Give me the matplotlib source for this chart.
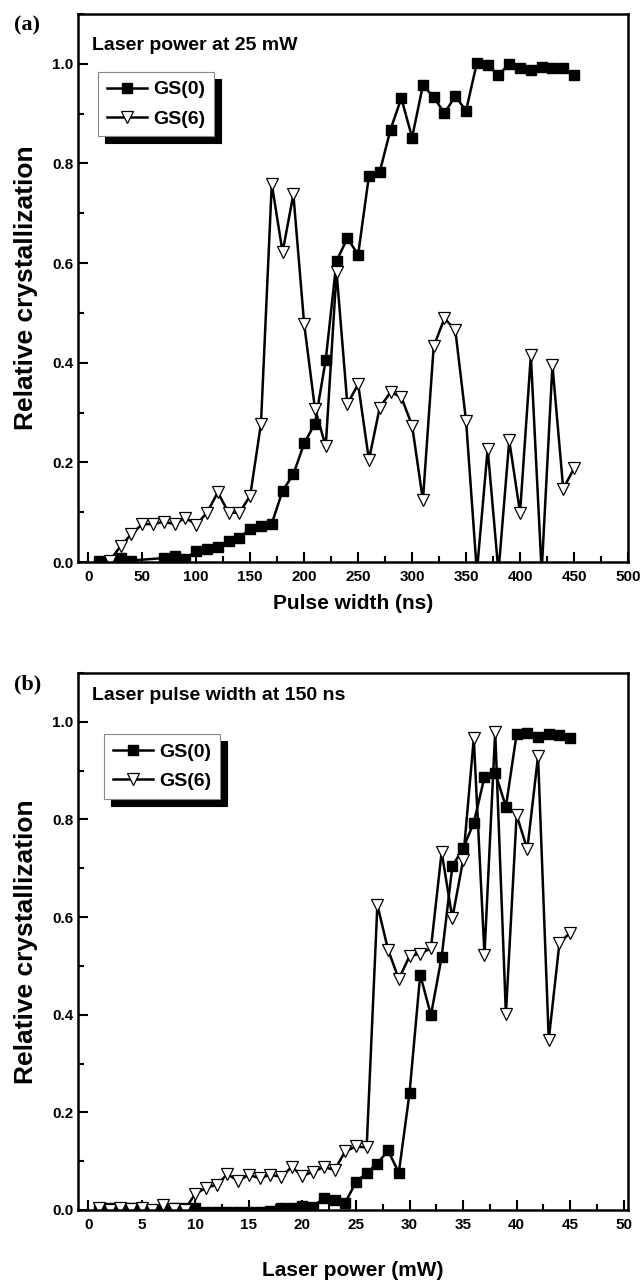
import matplotlib
matplotlib.use("Agg")
import matplotlib.pyplot as plt
from matplotlib.ticker import MultipleLocator

plt.rcParams["font.family"] = ["Liberation Sans", "DejaVu Sans"]
plt.rcParams["font.weight"] = "bold"

# panel (a): laser power 25 mW, x = pulse width (ns)
pw_gs0 = [10, 20, 30, 40] + list(range(70, 451, 10))
gs0_a = [0.003, 0.002, 0.009, 0.003, 0.008, 0.012, 0.007, 0.022, 0.026, 0.030,
         0.042, 0.049, 0.066, 0.073, 0.077, 0.143, 0.176, 0.238, 0.278, 0.406,
         0.604, 0.650, 0.617, 0.775, 0.783, 0.868, 0.931, 0.852, 0.957, 0.933,
         0.901, 0.935, 0.906, 1.002, 0.997, 0.977, 1.000, 0.991, 0.987, 0.993,
         0.991, 0.992, 0.977]
pw_gs6 = list(range(20, 451, 10))
gs6_a = [0.003, 0.032, 0.056, 0.076, 0.076, 0.081, 0.076, 0.089, 0.075, 0.099,
         0.140, 0.099, 0.099, 0.133, 0.278, 0.759, 0.622, 0.738, 0.478, 0.308,
         0.232, 0.583, 0.317, 0.357, 0.205, 0.310, 0.341, 0.331, 0.274, 0.124,
         0.433, 0.489, 0.466, 0.283, -0.02, 0.227, -0.02, 0.244, 0.099, 0.415,
         -0.02, 0.395, 0.147, 0.188]

# panel (b): pulse width 150 ns, x = laser power (mW)
lp = list(range(1, 46))
gs0_b = [0.002, 0.003, 0.004, 0.005, 0.002, 0.000, 0.002, 0.003, 0.004, 0.003,
         -0.005, -0.005, -0.004, -0.004, -0.004, -0.004, -0.003, 0.003, 0.005, 0.008,
         0.007, 0.024, 0.020, 0.015, 0.057, 0.076, 0.095, 0.122, 0.076, 0.239,
         0.482, 0.399, 0.518, 0.704, 0.741, 0.793, 0.887, 0.896, 0.826, 0.975,
         0.978, 0.970, 0.975, 0.973, 0.967]
gs6_b = [0.003, 0.000, 0.003, 0.002, 0.003, 0.000, 0.010, 0.002, 0.000, 0.033,
         0.045, 0.052, 0.073, 0.060, 0.072, 0.065, 0.072, 0.068, 0.088, 0.070,
         0.078, 0.088, 0.082, 0.120, 0.130, 0.128, 0.625, 0.533, 0.473, 0.520,
         0.525, 0.536, 0.733, 0.598, 0.716, 0.966, 0.523, 0.980, 0.401, 0.809,
         0.739, 0.930, 0.349, 0.547, 0.568]

fig = plt.figure(figsize=(6.42, 12.82), dpi=100)
ax_a = fig.add_axes([0.1215, 0.5616, 0.8567, 0.4275])
ax_b = fig.add_axes([0.1215, 0.0562, 0.8567, 0.4188])

panels = [
    (ax_a, pw_gs0, gs0_a, pw_gs6, gs6_a, (-9.5, 500), 50, 25,
     "Pulse width (ns)", "Laser power at 25 mW", "(a)", (0.036, 0.894), 0.943, -0.058),
    (ax_b, lp, gs0_b, lp, gs6_b, (-0.95, 50.4), 5, 2.5,
     "Laser power (mW)", "Laser pulse width at 150 ns", "(b)", (0.047, 0.886), 0.959, -0.095),
]

for (ax, x0, y0, x6, y6, xlim, xmaj, xmin, xlabel, note, tag,
     leg_anchor, note_y, xlab_y) in panels:
    ax.plot(x0, y0, color="black", lw=1.8, marker="s", ms=6.5,
            mfc="black", mec="black", label="GS(0)")
    ax.plot(x6, y6, color="black", lw=1.8, marker="v", ms=9,
            mfc="white", mec="black", mew=0.9, label="GS(6)")
    ax.set_xlim(*xlim)
    ax.set_ylim(0, 1.1)
    ax.xaxis.set_major_locator(MultipleLocator(xmaj))
    ax.xaxis.set_minor_locator(MultipleLocator(xmin))
    ax.yaxis.set_major_locator(MultipleLocator(0.2))
    ax.yaxis.set_minor_locator(MultipleLocator(0.1))
    ax.tick_params(which="both", direction="in", top=False, right=False,
                   width=1.5, labelsize=11)
    ax.tick_params(which="major", length=7)
    ax.tick_params(which="minor", length=4)
    ax.tick_params(axis="x", pad=6)
    ax.yaxis.set_major_formatter(plt.FormatStrFormatter("%.1f"))
    for sp in ax.spines.values():
        sp.set_linewidth(1.8)
    ax.set_xlabel(xlabel, fontsize=15, fontweight="bold")
    ax.xaxis.set_label_coords(0.5, xlab_y)
    ax.set_ylabel("Relative crystallization", fontsize=19, fontweight="bold")
    ax.yaxis.set_label_coords(-0.072, 0.5)
    ax.text(0.025, note_y, note, transform=ax.transAxes, fontsize=14,
            fontweight="bold", va="center", ha="left")
    ax.text(-0.117, 0.997, tag, transform=ax.transAxes, fontsize=16,
            fontweight="bold", family="Liberation Serif", va="top", ha="left")
    leg = ax.legend(loc="upper left", bbox_to_anchor=leg_anchor, borderaxespad=0,
                    fontsize=14, frameon=True, fancybox=False, framealpha=1,
                    edgecolor="#888888", handlelength=2.1, handletextpad=0.3,
                    borderpad=0.45, labelspacing=0.6,
                    shadow={"color": "black", "alpha": 1, "ox": 5, "oy": -5})
    leg.get_frame().set_linewidth(0.8)

fig.savefig("out.png", dpi=100)
